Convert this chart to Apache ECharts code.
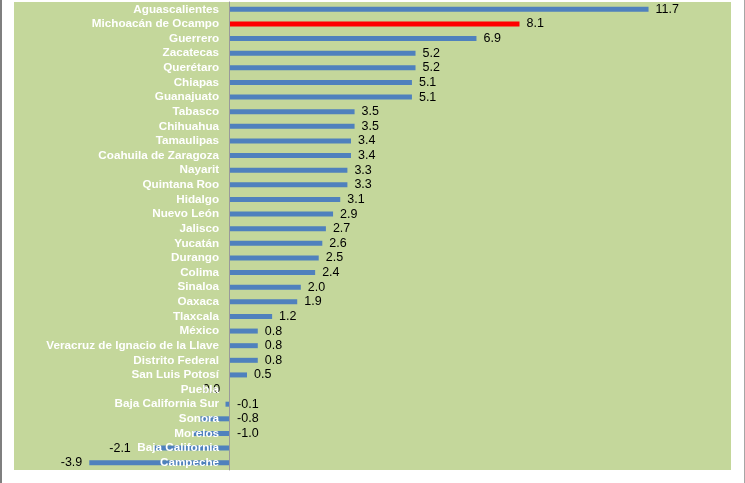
<!DOCTYPE html>
<html lang="es">
<head>
    <meta charset="UTF-8">
    <title>Variación por entidad</title>
    <script src="https://cdn.jsdelivr.net/npm/echarts@6/dist/echarts.min.js"></script>
    <style>
        body { margin: 0; background: #fff; }
        #main { position: absolute; left: 0; top: 0; width: 745px; height: 483px; }
        .edge { position: absolute; top: 0; height: 483px; background: #7f7f7f; }
    </style>
</head>
<body>
    <div id="main"></div>
    <div class="edge" style="left:0;width:2px;"></div>
    <div class="edge" style="left:744px;width:1px;background:#a6a6a6;"></div>

    <script>
        // entidades, de arriba hacia abajo
        const categories = [
            'Aguascalientes', 'Michoacán de Ocampo', 'Guerrero', 'Zacatecas', 'Querétaro',
            'Chiapas', 'Guanajuato', 'Tabasco', 'Chihuahua', 'Tamaulipas',
            'Coahuila de Zaragoza', 'Nayarit', 'Quintana Roo', 'Hidalgo', 'Nuevo León',
            'Jalisco', 'Yucatán', 'Durango', 'Colima', 'Sinaloa',
            'Oaxaca', 'Tlaxcala', 'México', 'Veracruz de Ignacio de la Llave', 'Distrito Federal',
            'San Luis Potosí', 'Puebla', 'Baja California Sur', 'Sonora', 'Morelos',
            'Baja California', 'Campeche'
        ];
        const values = [
            11.7, 8.1, 6.9, 5.2, 5.2,
            5.1, 5.1, 3.5, 3.5, 3.4,
            3.4, 3.3, 3.3, 3.1, 2.9,
            2.7, 2.6, 2.5, 2.4, 2.0,
            1.9, 1.2, 0.8, 0.8, 0.8,
            0.5, 0.0, -0.1, -0.8, -1.0,
            -2.1, -3.9
        ];
        const highlight = 'Michoacán de Ocampo';

        // posición de la etiqueta de cada barra (como en la hoja original)
        function labelFor(name, v) {
            if (name === 'Puebla') return { position: 'left', distance: 9 };
            if (name === 'Baja California') return { position: 'left', distance: 23 };
            if (v < -3) return { position: 'left', distance: 7 };
            if (v < 0) return { position: 'right', distance: 8 };
            return { position: 'right', distance: 7 };
        }

        const seriesData = categories.map((name, i) => ({
            value: values[i],
            itemStyle: { color: name === highlight ? '#ff0000' : '#4f81bd' },
            label: labelFor(name, values[i])
        }));

        const xMin = -6, xMax = 14;
        const gridLeft = 14, gridRight = 14, chartWidth = 745;
        // el eje de categorías cruza en el cero
        const zeroOffset = (0 - xMin) / (xMax - xMin) * (chartWidth - gridLeft - gridRight);

        const myChart = echarts.init(document.getElementById('main'));

        const option = {
            animation: false,
            backgroundColor: '#ffffff',
            grid: {
                left: gridLeft, right: gridRight, top: 2, bottom: 13,
                containLabel: false,
                outerBoundsMode: 'none',
                show: true, backgroundColor: '#c4d79b', borderWidth: 0
            },
            xAxis: {
                type: 'value',
                min: xMin,
                max: xMax,
                axisLine: { show: false },
                axisTick: { show: false },
                axisLabel: { show: false },
                splitLine: { show: false }
            },
            yAxis: {
                type: 'category',
                inverse: true,
                data: categories,
                position: 'left',
                offset: -zeroOffset,
                z: 10,
                axisLine: { onZero: false, lineStyle: { color: '#9a9a9a', width: 1 } },
                axisTick: { show: false },
                axisLabel: {
                    show: true,
                    interval: 0,
                    color: '#ffffff',
                    fontFamily: 'Liberation Sans',
                    fontWeight: 'bold',
                    fontSize: 11.7,
                    margin: 10
                }
            },
            series: [{
                type: 'bar',
                data: seriesData,
                barWidth: 5,
                label: {
                    show: true,
                    color: '#000000',
                    fontFamily: 'Liberation Sans',
                    fontSize: 12.5,
                    formatter: p => p.value.toFixed(1)
                }
            }]
        };

        myChart.setOption(option);
    </script>
</body>
</html>
